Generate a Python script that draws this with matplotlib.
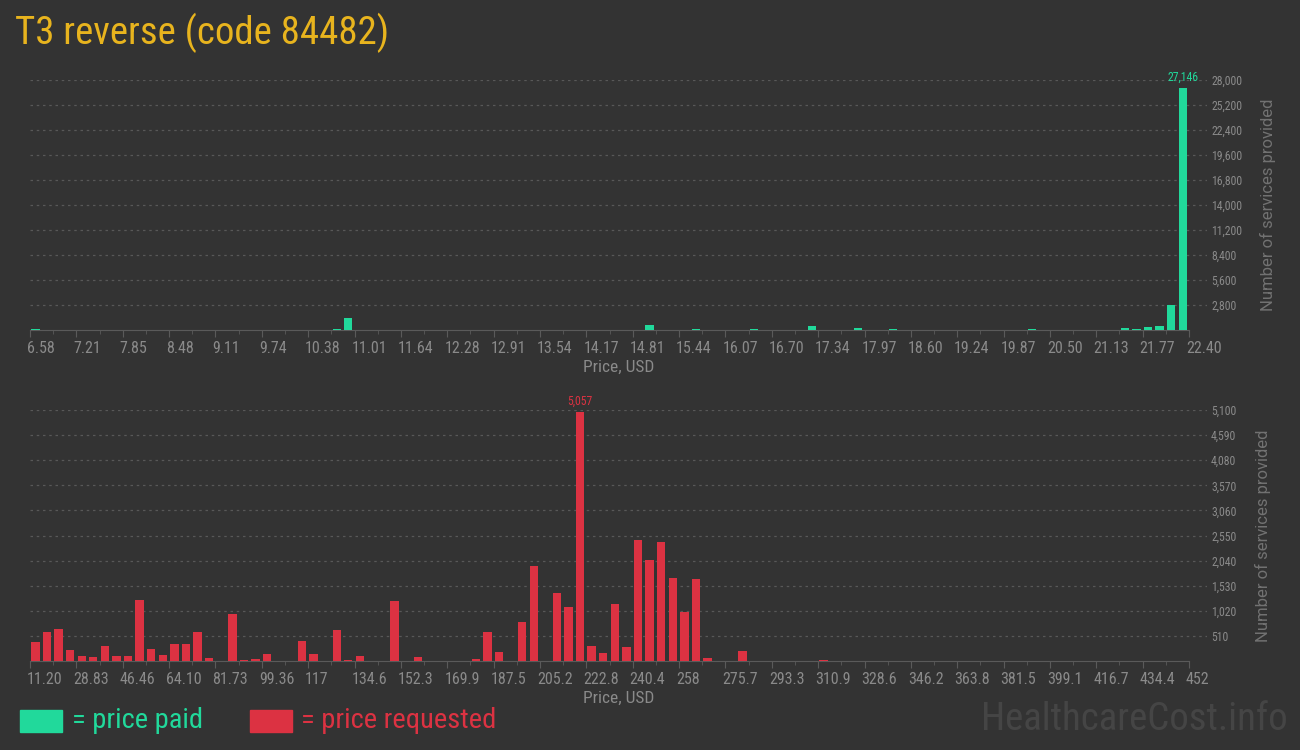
# Price histogram for T3 reverse (code 84482)
import matplotlib
matplotlib.use("Agg")
import matplotlib.pyplot as plt
import matplotlib.transforms as mtransforms
from matplotlib.ticker import FixedLocator, FuncFormatter

# Data (100 equal price bins per panel)
paid_ticks = ["6.58", "7.21", "7.85", "8.48", "9.11", "9.74", "10.38", "11.01",
              "11.64", "12.28", "12.91", "13.54", "14.17", "14.81", "15.44",
              "16.07", "16.70", "17.34", "17.97", "18.60", "19.24", "19.87",
              "20.50", "21.13", "21.77", "22.40"]
paid_bins = [0, 26, 27, 53, 57, 62, 67, 71, 74, 86, 94, 95, 96, 97, 98, 99]
paid_counts = [70, 80, 1300, 520, 100, 90, 450, 220, 90, 90,
               220, 100, 330, 450, 2850, 27146]
paid_yticks = [2800, 5600, 8400, 11200, 14000, 16800, 19600, 22400, 25200, 28000]

req_ticks = ["11.20", "28.83", "46.46", "64.10", "81.73", "99.36", "117", "134.6",
             "152.3", "169.9", "187.5", "205.2", "222.8", "240.4", "258", "275.7",
             "293.3", "310.9", "328.6", "346.2", "363.8", "381.5", "399.1",
             "416.7", "434.4", "452"]
req_bins = [0, 1, 2, 3, 4, 5, 6, 7, 8, 9, 10, 11, 12, 13, 14, 15, 17, 18, 19, 20,
            23, 24, 26, 27, 28, 31, 33, 38, 39, 40, 42, 43, 45, 46, 47, 48, 49,
            50, 51, 52, 53, 54, 55, 56, 57, 58, 61, 68, 99]
req_counts = [380, 585, 646, 218, 95, 75, 300, 95, 95, 1238, 238, 116, 340, 340,
              585, 54, 952, 14, 34, 136, 401, 136, 626, 14, 95, 1217, 75, 34, 585,
              177, 789, 1931, 1380, 1095, 5057, 300, 156, 1156, 279, 2462, 2054,
              2421, 1686, 1000, 1666, 54, 197, 15, 10]
req_yticks = [510, 1020, 1530, 2040, 2550, 3060, 3570, 4080, 4590, 5100]

# Style
BG = "#333333"
GREEN = "#21d99b"
RED = "#dc3242"
GOLD = "#e8b41e"
TICK = "#8a8a8a"
LABEL = "#727272"
COND = ["Roboto Condensed", "DejaVu Sans"]

plt.rcParams["font.family"] = ["Roboto", "DejaVu Sans"]

fig = plt.figure(figsize=(13, 7.5), dpi=100, facecolor=BG)
W, H = 1300, 750


def make_panel(rect, bins, counts, color, ticks, yticks, ymax):
    left, top, right, bottom = rect
    ax = fig.add_axes([left / W, 1 - bottom / H, (right - left) / W, (bottom - top) / H])
    ax.set_facecolor(BG)

    ax.bar([b + 0.46 for b in bins], counts, width=0.72, color=color, zorder=3)

    ax.set_xlim(0, 101.55)
    ax.set_ylim(0, ymax)

    for s in ["top", "left", "right"]:
        ax.spines[s].set_visible(False)
    ax.spines["bottom"].set_color("#5a5a5a")
    ax.spines["bottom"].set_bounds(0, 100)

    ax.xaxis.set_major_locator(FixedLocator(list(range(0, 101, 4))))
    ax.xaxis.set_minor_locator(FixedLocator(list(range(2, 100, 4))))
    ax.set_xticklabels(ticks)
    ax.tick_params(axis="x", which="major", length=5, color="#5a5a5a",
                   labelcolor=TICK, labelsize=11.5, pad=3)
    ax.tick_params(axis="x", which="minor", length=3, color="#5a5a5a")
    shift = mtransforms.ScaledTranslation(-3 / 100, 0, fig.dpi_scale_trans)
    for lab in ax.get_xticklabels():
        lab.set_horizontalalignment("left")
        lab.set_transform(lab.get_transform() + shift)
        lab.set_family(COND)

    ax.yaxis.tick_right()
    ax.yaxis.set_major_locator(FixedLocator(yticks))
    ax.yaxis.set_major_formatter(FuncFormatter(lambda v, p: f"{int(v):,}"))
    ax.tick_params(axis="y", length=0, labelcolor=TICK, labelsize=8.5, pad=3)
    for lab in ax.get_yticklabels():
        lab.set_family(COND)
    ax.grid(axis="y", color="#585858", linestyle=(0, (2, 3)), linewidth=0.9, zorder=0)

    ax.set_xlabel("Price, USD", color=TICK, fontsize=12.5, labelpad=3, family=COND)
    ax.yaxis.set_label_position("right")
    ax.set_ylabel("Number of services provided", color=LABEL, fontsize=12,
                  labelpad=13)

    # label the tallest bar
    i = counts.index(max(counts))
    ax.annotate(f"{counts[i]:,}", (bins[i] + 0.46, counts[i]), xytext=(0, 3),
                textcoords="offset points", ha="center", va="bottom",
                color=color, fontsize=8.5, family=COND)
    return ax


make_panel((30, 80, 1207, 330), paid_bins, paid_counts, GREEN, paid_ticks,
           paid_yticks, 28000)
make_panel((30, 410, 1207, 661), req_bins, req_counts, RED, req_ticks,
           req_yticks, 5100)

# Title
fig.text(15 / W, 1 - 33 / H, "T3 reverse (code 84482)", color=GOLD, fontsize=28,
         ha="left", va="center", family=COND)

# Legend
fig.patches.append(plt.Rectangle((20 / W, 1 - 732 / H), 42 / W, 22 / H,
                                 transform=fig.transFigure, color=GREEN))
fig.text(72 / W, 1 - 721 / H, "= price paid", color=GREEN, fontsize=20.5,
         ha="left", va="center", family=COND)
fig.patches.append(plt.Rectangle((250 / W, 1 - 732 / H), 42 / W, 22 / H,
                                 transform=fig.transFigure, color=RED))
fig.text(301 / W, 1 - 721 / H, "= price requested", color=RED, fontsize=20.5,
         ha="left", va="center", family=COND)

# Watermark
fig.text(1288 / W, 1 - 720 / H, "HealthcareCost.info", color="#454545",
         fontsize=28, ha="right", va="center", family=COND)

fig.savefig("out.png", dpi=100, facecolor=BG)
